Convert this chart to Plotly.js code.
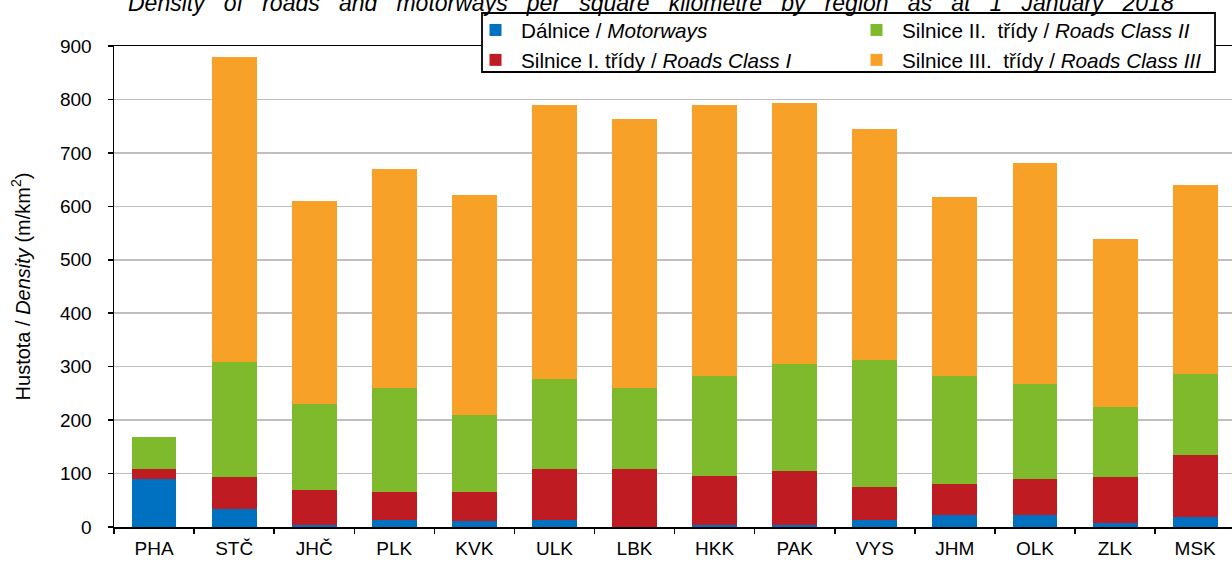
<!DOCTYPE html>
<html>
<head>
<meta charset="utf-8">
<script src="https://cdn.plot.ly/plotly-3.0.1.min.js"></script>
<style>html,body{margin:0;padding:0;background:#fff;}#chart{width:1232px;height:562px;}</style>
</head>
<body>
<div id="chart"></div>
<script>
const regions = ["PHA","STČ","JHČ","PLK","KVK","ULK","LBK","HKK","PAK","VYS","JHM","OLK","ZLK","MSK"];
const motorways = [90, 33, 3, 14, 11, 14, 0, 3, 3, 14, 22, 22, 7, 18];
const roadsClassI = [18, 60, 67, 52, 55, 94, 108, 93, 101, 60, 59, 67, 86, 116];
const roadsClassII = [61, 216, 161, 195, 143, 168, 153, 187, 201, 238, 202, 179, 131, 153];
const roadsClassIII = [0, 571, 379, 409, 412, 514, 503, 507, 489, 433, 334, 413, 314, 353];
const seriesNames = [
  "Dálnice / <i>Motorways</i>",
  "Silnice I. třídy / <i>Roads Class I</i>",
  "Silnice II.\u00a0 třídy / <i>Roads Class II</i>",
  "Silnice III.\u00a0 třídy / <i>Roads Class III</i>"
];
const titleWords = ["Density","of","roads","and","motorways","per","square","kilometre","by","region","as","at","1","January","2018"];
const titleText = "<i>" + titleWords.join("\u00a0\u00a0 ") + "</i>";

const colors = ["#0070C0", "#BF1B23", "#7FBA2C", "#F7A128"];
const ranks = [1, 3, 2, 4];
const values = [motorways, roadsClassI, roadsClassII, roadsClassIII];

const traces = values.map((v, i) => ({
  type: "bar",
  x: regions,
  y: v,
  name: seriesNames[i],
  legendrank: ranks[i],
  marker: {color: colors[i], line: {width: 0}},
  hoverinfo: "x+y+name"
}));

// plot area geometry (pixels) used to convert the legend box position
const W = 1232, H = 562, ML = 114, MR = 0, MT = 46, MB = 35;
const PW = W - ML - MR, PH = H - MT - MB;
const px2x = p => (p - ML) / PW;
const px2y = p => (H - MB - p) / PH;

const FONT = "Liberation Sans, Arial, sans-serif";
const layout = {
  width: W,
  height: H,
  barmode: "stack",
  bargap: 0.44,
  paper_bgcolor: "#ffffff",
  plot_bgcolor: "#ffffff",
  margin: {l: ML, r: MR, t: MT, b: MB, autoexpand: false},
  font: {family: FONT, color: "#000", size: 19},
  title: {
    text: titleText,
    font: {family: FONT, size: 23, color: "#000"},
    xref: "container", x: 128/W, xanchor: "left",
    yref: "container", y: 1 - 2.5/H, yanchor: "middle"
  },
  xaxis: {
    type: "category",
    range: [-0.5, 13.46],
    showline: true, linecolor: "#000", linewidth: 1.5,
    mirror: true,
    ticks: "outside", tickson: "boundaries", ticklen: 5, tickwidth: 1.5, tickcolor: "#000",
    ticklabelstandoff: 4,
    tickfont: {family: FONT, size: 19, color: "#000"},
    showgrid: false, zeroline: false, fixedrange: true, automargin: false
  },
  yaxis: {
    range: [0, 900],
    tickvals: [0,100,200,300,400,500,600,700,800,900],
    showline: true, linecolor: "#000", linewidth: 1.5,
    ticks: "outside", ticklen: 5, tickwidth: 1.5, tickcolor: "#000",
    ticklabelstandoff: 12,
    tickfont: {family: FONT, size: 19, color: "#000"},
    showgrid: true, gridcolor: "#BFBFBF", gridwidth: 1.5,
    zeroline: false, fixedrange: true, automargin: false,
    title: {
      text: "Hustota / <i>Density</i> (m/km<sup>2</sup>)",
      font: {family: FONT, size: 20, color: "#000"},
      standoff: 24
    }
  },
  shapes: [{
    type: "rect", layer: "above",
    xref: "paper", yref: "paper",
    x0: px2x(482), x1: px2x(1215), y0: px2y(72), y1: px2y(13),
    fillcolor: "#ffffff",
    line: {color: "#000", width: 1.8}
  }],
  legend: {
    orientation: "h",
    x: px2x(470), xanchor: "left",
    y: px2y(10), yanchor: "top",
    bgcolor: "rgba(0,0,0,0)",
    borderwidth: 0,
    font: {family: FONT, size: 20.7, color: "#000"},
    itemwidth: 41,
    entrywidth: 325, entrywidthmode: "pixels",
    traceorder: "normal"
  },
  showlegend: true
};

Plotly.newPlot("chart", traces, layout, {displayModeBar: false, staticPlot: true});
</script>
</body>
</html>
